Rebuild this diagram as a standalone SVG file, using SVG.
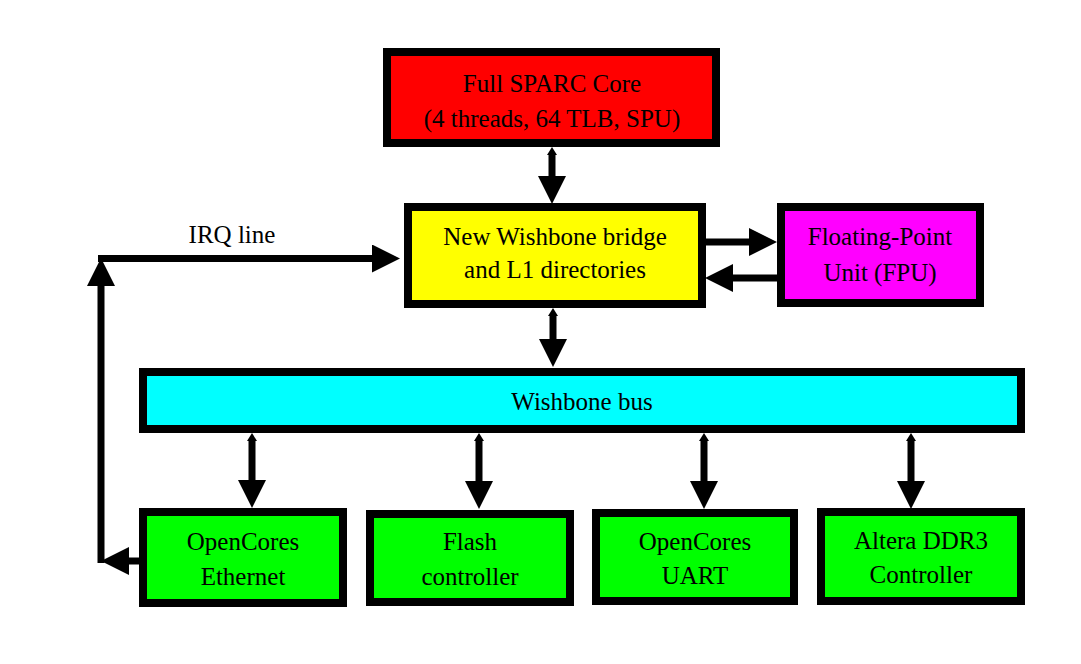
<svg xmlns="http://www.w3.org/2000/svg" width="1081" height="664" viewBox="0 0 1081 664">
<style>
.box{stroke:#000;stroke-width:8}
.t{font-family:"Liberation Serif","Times New Roman",serif;font-size:25px;fill:#000;text-anchor:middle}
.c{stroke:#000;stroke-width:7;fill:none}
</style>
<defs>
<marker id="big" markerUnits="userSpaceOnUse" markerWidth="28" markerHeight="28" refX="0" refY="14" orient="auto-start-reverse" viewBox="0 0 28 28">
<path d="M0,0 L28,14 L0,28 z" fill="#000"/>
</marker>
<marker id="small" markerUnits="userSpaceOnUse" markerWidth="8" markerHeight="10" refX="0" refY="5" orient="auto-start-reverse" viewBox="0 0 8 10">
<path d="M0,0 L8,5 L0,10 z" fill="#000"/>
</marker>
</defs>
<rect width="1081" height="664" fill="#fff"/>
<g id="connectors">
<line class="c" x1="552" y1="155" x2="552" y2="176" marker-start="url(#small)" marker-end="url(#big)"/>
<line class="c" x1="553" y1="316" x2="553" y2="339" marker-start="url(#small)" marker-end="url(#big)"/>
<line class="c" x1="706" y1="242" x2="749" y2="242" marker-end="url(#big)"/>
<line class="c" x1="777" y1="278" x2="733" y2="278" marker-end="url(#big)"/>
<line class="c" x1="252" y1="441" x2="252" y2="480" marker-start="url(#small)" marker-end="url(#big)"/>
<line class="c" x1="479" y1="441" x2="479" y2="481" marker-start="url(#small)" marker-end="url(#big)"/>
<line class="c" x1="704" y1="441" x2="704" y2="481" marker-start="url(#small)" marker-end="url(#big)"/>
<line class="c" x1="911" y1="441" x2="911" y2="481" marker-start="url(#small)" marker-end="url(#big)"/>
<line class="c" x1="139" y1="561" x2="129" y2="561" marker-end="url(#big)"/>
<line class="c" x1="101" y1="563" x2="101" y2="286" marker-end="url(#big)"/>
<line class="c" x1="98" y1="258.5" x2="372" y2="258.5" marker-end="url(#big)"/>
<text class="t" x="232" y="243">IRQ line</text>
</g>
<g id="core">
<rect class="box" x="387" y="52" width="329" height="91" fill="#ff0000"/>
<text class="t" x="552" y="92">Full SPARC Core</text>
<text class="t" x="552" y="127">(4 threads, 64 TLB, SPU)</text>
</g>
<g id="bridge">
<rect class="box" x="408" y="207" width="294" height="97" fill="#ffff00"/>
<text class="t" x="555" y="245">New Wishbone bridge</text>
<text class="t" x="555" y="278">and L1 directories</text>
</g>
<g id="fpu">
<rect class="box" x="781" y="207" width="199" height="96" fill="#ff00ff"/>
<text class="t" x="880" y="245">Floating-Point</text>
<text class="t" x="880" y="281">Unit (FPU)</text>
</g>
<g id="bus">
<rect class="box" x="143" y="372" width="878" height="57" fill="#00ffff"/>
<text class="t" x="582" y="410">Wishbone bus</text>
</g>
<g id="ethernet">
<rect class="box" x="143" y="512" width="200" height="91" fill="#00ff00"/>
<text class="t" x="243" y="550">OpenCores</text>
<text class="t" x="243" y="585">Ethernet</text>
</g>
<g id="flash">
<rect class="box" x="370" y="514" width="200" height="88" fill="#00ff00"/>
<text class="t" x="470" y="550">Flash</text>
<text class="t" x="470" y="585">controller</text>
</g>
<g id="uart">
<rect class="box" x="596" y="513" width="198" height="88" fill="#00ff00"/>
<text class="t" x="695" y="550">OpenCores</text>
<text class="t" x="695" y="584">UART</text>
</g>
<g id="ddr3">
<rect class="box" x="821" y="512" width="200" height="89" fill="#00ff00"/>
<text class="t" x="921" y="549">Altera DDR3</text>
<text class="t" x="921" y="583">Controller</text>
</g>
</svg>
